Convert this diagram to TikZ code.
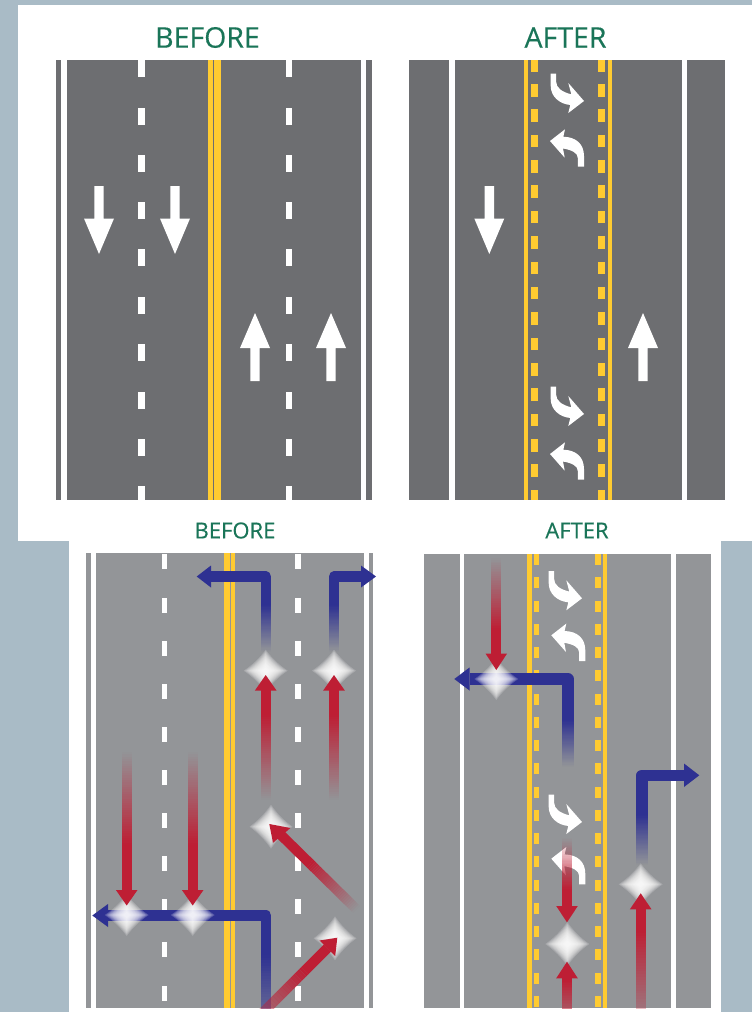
\documentclass[tikz,border=0pt]{standalone}
\usepackage{fontspec}
\setmainfont{Open Sans}
\newfontfamily\titlefont[FakeBold=0.3]{Open Sans}
\definecolor{bgblue}{HTML}{A9BBC6}
\definecolor{asphaltD}{HTML}{6D6E71}
\definecolor{asphaltL}{HTML}{939598}
\definecolor{lineY}{HTML}{FFCB31}
\definecolor{arrowB}{HTML}{2E3192}
\definecolor{arrowR}{HTML}{BE1E34}
\definecolor{labelG}{HTML}{1A7558}
\tikzset{
  bigtitle/.style={text=labelG,inner sep=0pt,font=\titlefont\fontsize{28.5}{30}\selectfont},
  smalltitle/.style={text=labelG,inner sep=0pt,font=\titlefont\fontsize{22}{24}\selectfont},
  markwhite/.style={fill=white},
  bluebar/.style={draw=arrowB,line join=round,line width=#1},
}
\newcommand\bx[5]{\fill[#1] (#2,#3) rectangle (#4,#5);}
\newcommand\dashcol[5]{\foreach \dy in {#4}{\fill[#1] (#2,\dy) rectangle (#3,{\dy+#5});}}
\newcommand\whitedown[1]{\fill[markwhite] ({#1-4.7},186) -- ({#1+4.7},186) -- ({#1+4.7},218.5) -- ({#1+15},218.5) -- (#1,254) -- ({#1-15},218.5) -- ({#1-4.7},218.5) -- cycle;}
\newcommand\whiteup[1]{\fill[markwhite] ({#1-4.7},381) -- ({#1+4.7},381) -- ({#1+4.7},348) -- ({#1+15},348) -- (#1,313) -- ({#1-15},348) -- ({#1-4.7},348) -- cycle;}
\newcommand\hookright[2]{\fill[markwhite,shift={(#1,#2)}]
  (-33.3,-27.3) -- (-28,-27.3) -- (-28,-20) .. controls (-28,-13) and (-22,-9) .. (-12.7,-6.7)
  -- (-15.7,-18) -- (0,0) -- (-15.7,12) -- (-13.7,4)
  .. controls (-25,3) and (-33.3,-5) .. (-33.3,-15) -- cycle;}
\newcommand\hookleft[2]{\fill[markwhite,shift={(#1,#2)}]
  (0,0) -- (15,-11.7) -- (13.3,-4.3) .. controls (26,-4) and (34,3) .. (34,15)
  -- (34,25.7) -- (27.8,25.7) -- (27.8,17) .. controls (27.8,12) and (22,9) .. (13,7.5)
  -- (14.7,16.7) -- cycle;}
\newcommand\glow[4]{\begin{scope}[shift={(#1,#2)},xscale=#3,yscale=#4]
  \foreach \s in {1,0.93,0.86,0.79,0.72,0.65,0.58,0.51,0.44,0.37,0.3,0.23,0.16}{
    \fill[white,opacity=0.19,scale=\s] (0,-1) .. controls (0.28,-0.6) and (0.6,-0.28) .. (1,0)
      .. controls (0.6,0.28) and (0.28,0.6) .. (0,1)
      .. controls (-0.28,0.6) and (-0.6,0.28) .. (-1,0)
      .. controls (-0.6,-0.28) and (-0.28,-0.6) .. (0,-1) -- cycle;
  }
\end{scope}}
% faded vertical bar: colour, 0 = transparent at top / 1 = opaque at top, left, right, top, bottom
\newcommand\vfade[6]{\foreach \i in {0,...,39}{
  \pgfmathsetmacro\op{abs(#2-(\i+0.5)/40)}
  \fill[#1,opacity=\op] (#3,{#5+(#6-#5)*\i/40}) rectangle (#4,{#5+(#6-#5)*(\i+1)/40});}}
\newcommand\reddown[5]{
  \vfade{arrowR}{0}{#1-5}{#1+5}{#2}{#3}
  \fill[arrowR] ({#1-5},#3) rectangle ({#1+5},{#4+0.3});
  \fill[arrowR] ({#1-10.8},#4) -- ({#1+10.8},#4) -- (#1,#5) -- cycle;}
\newcommand\redup[5]{
  \vfade{arrowR}{1}{#1-5}{#1+5}{#3}{#2}
  \fill[arrowR] ({#1-5},#3) rectangle ({#1+5},{#4-0.3});
  \fill[arrowR] ({#1-10.8},#4) -- ({#1+10.8},#4) -- (#1,#5) -- cycle;}
\newcommand\diagfade[6]{\foreach \i in {0,...,29}{
  \pgfmathsetmacro\ta{\i/30}\pgfmathsetmacro\tb{(\i+1)/30}
  \pgfmathsetmacro\op{1-(\i+0.5)/30}
  \fill[arrowR,opacity=\op]
    ({#1+(#3-#1)*\ta+#5},{#2+(#4-#2)*\ta+#6}) --
    ({#1+(#3-#1)*\tb+#5},{#2+(#4-#2)*\tb+#6}) --
    ({#1+(#3-#1)*\tb-#5},{#2+(#4-#2)*\tb-#6}) --
    ({#1+(#3-#1)*\ta-#5},{#2+(#4-#2)*\ta-#6}) -- cycle;}}
\begin{document}
\begin{tikzpicture}[x=1pt,y=-1pt]
\useasboundingbox (0,0) rectangle (752,1012);
\fill[bgblue] (0,0) rectangle (752,1012);
\fill[white] (18,5) rectangle (752,541);
\fill[white] (69,541) rectangle (721,1012);

% ---------- top left road
\bx{asphaltD}{56}{60}{61}{499.5}
\bx{asphaltD}{67}{60}{360.5}{499.5}
\bx{asphaltD}{366}{60}{371.5}{499.5}
\dashcol{white}{138.3}{144.7}{60,108,155,201.5,249,296.5,344,391.5,439}{17}
\dashcol{white}{285.7}{292.3}{60,108,155,201.5,249,296.5,344,391.5,439}{17}
\bx{white}{138.3}{485.5}{144.7}{499.5}
\bx{white}{285.7}{485.5}{292.3}{499.5}
\bx{lineY}{208.3}{60}{212.7}{499.5}
\bx{lineY}{214.3}{60}{220.7}{499.5}
\whitedown{99}
\whitedown{175}
\whiteup{255}
\whiteup{331}
\node[bigtitle] (titleA) at (207.5,37.5) {BEFORE};

% ---------- top right road
\bx{asphaltD}{409}{60}{449}{499.5}
\bx{asphaltD}{455}{60}{682}{499.5}
\bx{asphaltD}{686.5}{60}{725}{499.5}
\bx{lineY}{523.7}{60}{528.3}{499.5}
\bx{lineY}{607.5}{60}{612.3}{499.5}
\foreach \dx in {531,598}{
  \fill[lineY] (\dx,60) rectangle ({\dx+6.7},71.5);
  \foreach \k in {0,...,15}{\fill[lineY] (\dx,{84+25.36*\k}) rectangle ({\dx+6.7},{96.6+25.36*\k});}
  \fill[lineY] (\dx,490) rectangle ({\dx+6.7},499.5);
}
\hookright{584}{101}
\hookleft{550}{141}
\hookright{584}{414}
\hookleft{550}{454}
\whitedown{489.3}
\whiteup{643}
\node[bigtitle] (titleB) at (565.5,37.5) {AFTER};

% ---------- lower left road
\bx{asphaltL}{86}{553}{91}{1008}
\bx{asphaltL}{95.7}{553}{363.5}{1008}
\bx{asphaltL}{368.5}{553}{373}{1008}
\dashcol{white}{161.7}{166.7}{554,597.5,640.5,684,726.8,769.5,812.5,855.5,899,942,985.5}{15}
\dashcol{white}{295}{300.7}{554,597.5,640.5,684,726.8,769.5,812.5,855.5,899,942,985.5}{15}
\bx{lineY}{224}{553}{229.7}{1008}
\bx{lineY}{231.3}{553}{235}{1008}
\node[smalltitle] (titleC) at (235,530.5) {BEFORE};

\begin{scope}
\clip (86,553) rectangle (380,1008);
\vfade{arrowB}{1}{260.7}{270.9}{605}{652}
\draw[bluebar=10.2pt] (265.8,605) -- (265.8,576.5) -- (211,576.5);
\fill[arrowB] (211,565.5) -- (211,587.5) -- (196.7,576.5) -- cycle;
\vfade{arrowB}{1}{328.9}{339.1}{605}{652}
\draw[bluebar=10.2pt] (334,605) -- (334,576.5) -- (361,576.5);
\fill[arrowB] (361,565.5) -- (361,587.5) -- (376,576.5) -- cycle;
\vfade{arrowB}{1}{260.7}{270.9}{955}{1060}
\draw[bluebar=10.2pt] (265.8,955) -- (265.8,915.5);
\draw[bluebar=11.2pt] (265.8,921) -- (265.8,915.5) -- (107.5,915.5);
\fill[arrowB] (108,904) -- (108,927) -- (92.3,915.5) -- cycle;
\glow{265.7}{670.7}{22}{21}
\glow{334}{670.7}{22}{21}
\glow{126.7}{915}{22}{21}
\glow{192.7}{915}{22}{21}
\glow{271}{826.7}{21.5}{22}
\glow{335}{938.3}{21.5}{22}
\reddown{126.7}{752}{845}{890}{905.5}
\reddown{192.7}{752}{845}{890}{905.5}
\redup{265.7}{800}{715}{690.5}{675}
\redup{334}{800}{715}{690.5}{675}
\draw[arrowR,line width=10pt] (281,835) -- (310,863.5);
\fill[arrowR] (269.3,824) -- (273,842.8) -- (290.5,828) -- cycle;
\diagfade{310}{863.5}{356.7}{909.5}{3.5}{-3.56}
\draw[arrowR,line width=10pt] (327.5,948) -- (305,970.5);
\fill[arrowR] (337.3,937.7) -- (319.5,940.5) -- (335.2,956) -- cycle;
\diagfade{305}{970.5}{238}{1037.5}{3.54}{3.54}
\end{scope}

% ---------- lower right road
\bx{asphaltL}{424}{554}{459.7}{1008}
\bx{asphaltL}{464.3}{554}{671}{1008}
\bx{asphaltL}{675.7}{554}{711.3}{1008}
\bx{lineY}{527}{554}{532}{1008}
\bx{lineY}{602.7}{554}{607.3}{1008}
\foreach \dx in {534,595.3}{
  \fill[lineY] (\dx,554) rectangle ({\dx+5.2},565);
  \foreach \k in {0,...,18}{\fill[lineY] (\dx,{577.3+23.25*\k}) rectangle ({\dx+5.2},{588.4+23.25*\k});}
}
\hookright{582}{598.3}
\hookleft{551.3}{635.3}
\hookright{582}{822}
\hookleft{551.3}{858.7}
\node[smalltitle] (titleD) at (577,530.5) {AFTER};

\begin{scope}
\clip (424,554) rectangle (711.3,1008);
\vfade{arrowB}{1}{562.3}{573.7}{720}{767}
\draw[bluebar=11.4pt] (568,720) -- (568,679) -- (469.5,679);
\fill[arrowB] (469.5,667.5) -- (469.5,690.5) -- (454.3,679) -- cycle;
\vfade{arrowB}{1}{636.3}{647.7}{815}{865}
\draw[bluebar=11.4pt] (642,815) -- (642,775.3) -- (684.5,775.3);
\fill[arrowB] (684,763.5) -- (684,787) -- (699.3,775.3) -- cycle;
\glow{496.3}{679}{22}{21}
\glow{640.7}{884.3}{22}{21}
\glow{567.3}{944}{22}{22}
\reddown{496.3}{558}{630}{653.5}{670}
\reddown{567}{838}{890}{906}{922.3}
\redup{567}{1045}{980}{978.3}{961.7}
\redup{640.7}{1040}{930}{909.3}{893.3}
\end{scope}
\end{tikzpicture}
\end{document}
